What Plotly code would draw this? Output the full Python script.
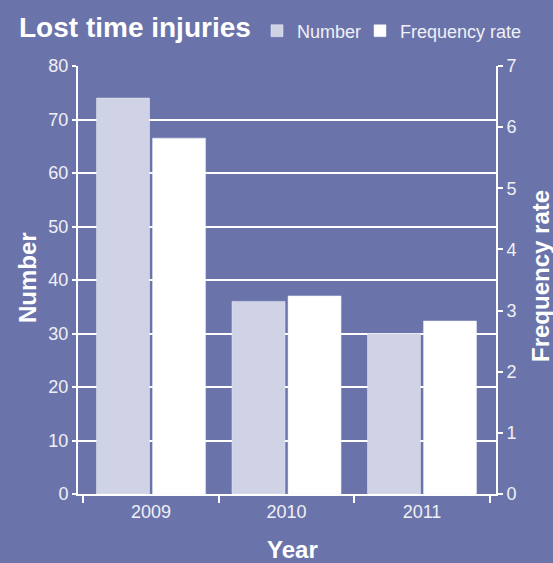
import plotly.graph_objects as go

years = ["2009", "2010", "2011"]
number = [74, 36, 30]
frequency_rate = [5.82, 3.24, 2.83]

BG = "#6B74AA"
NUM_COLOR = "#D0D3E6"
FREQ_COLOR = "#FFFFFF"
TXT = "#F0F0F6"
FONT = "Liberation Sans, Arial, sans-serif"

# plot area in pixels
L, R, T, B = 78, 496, 66, 494
PW, PH = R - L, B - T

fig = go.Figure()
fig.add_trace(go.Bar(x=years, y=number, name="Number", marker_color=NUM_COLOR,
                     offsetgroup=1, yaxis="y", legend="legend"))
fig.add_trace(go.Bar(x=years, y=frequency_rate, name="Frequency rate",
                     marker_color=FREQ_COLOR, offsetgroup=2, yaxis="y2",
                     legend="legend2"))

def px_x(p):
    return (p - L) / PW

def px_y(p):
    return (B - p) / PH

leg_common = dict(orientation="h", xanchor="left", yanchor="middle",
                  font=dict(size=18, color=TXT), bgcolor="rgba(0,0,0,0)")

fig.update_layout(
    width=553, height=563,
    paper_bgcolor=BG, plot_bgcolor=BG,
    margin=dict(l=L, r=553 - R, t=T, b=563 - B),
    font=dict(family=FONT, color=TXT, size=18),
    barmode="group", bargap=0.173, bargroupgap=0.054,
    title=dict(text="<b>Lost time injuries</b>", x=19/553, xanchor="left",
               y=1 - 27/563, yanchor="middle",
               font=dict(size=28, color="white", family=FONT)),
    legend=dict(x=px_x(257), y=px_y(31), **leg_common),
    legend2=dict(x=px_x(360), y=px_y(31), **leg_common),
    showlegend=True,
    xaxis=dict(type="category", range=[-0.539, 2.546], showline=True,
               linecolor="white", linewidth=2, ticks="outside", tickson="boundaries",
               tickcolor="white", ticklen=7, tickwidth=2, showgrid=False,
               tickfont=dict(size=18, color=TXT)),
    yaxis=dict(range=[0, 80], tickvals=list(range(0, 81, 10)), showline=True,
               linecolor="white", linewidth=2, ticks="outside", ticklen=4,
               tickcolor="white", tickwidth=2, showgrid=True, gridcolor="white",
               gridwidth=1.5, zeroline=False, tickfont=dict(size=18, color=TXT)),
    yaxis2=dict(range=[0, 7], tickvals=list(range(0, 8)), overlaying="y",
                side="right", showline=True, linecolor="white", linewidth=2,
                ticks="outside", ticklen=5, tickcolor="white", tickwidth=2,
                showgrid=False, zeroline=False, tickfont=dict(size=18, color=TXT)),
    yaxis3=dict(range=[0, 7], tickvals=list(range(0, 8)), overlaying="y",
                side="right", anchor="x", showline=False, ticks="inside",
                ticklen=5, tickcolor="white", tickwidth=2, showticklabels=False,
                showgrid=False, zeroline=False),
    annotations=[
        dict(text="<b>Number</b>", x=px_x(27), y=px_y(278), xref="paper", yref="paper",
             xanchor="center", yanchor="middle",
             textangle=-90, showarrow=False, font=dict(size=24, color="white")),
        dict(text="<b>Frequency rate</b>", x=px_x(540), y=px_y(276), xref="paper",
             yref="paper", xanchor="center", yanchor="middle",
             textangle=-90, showarrow=False, font=dict(size=24, color="white")),
        dict(text="<b>Year</b>", x=px_x(292), y=px_y(549), xref="paper", yref="paper",
             xanchor="center", yanchor="middle",
             showarrow=False, font=dict(size=24, color="white")),
    ],
)

fig.write_html("out.html")
